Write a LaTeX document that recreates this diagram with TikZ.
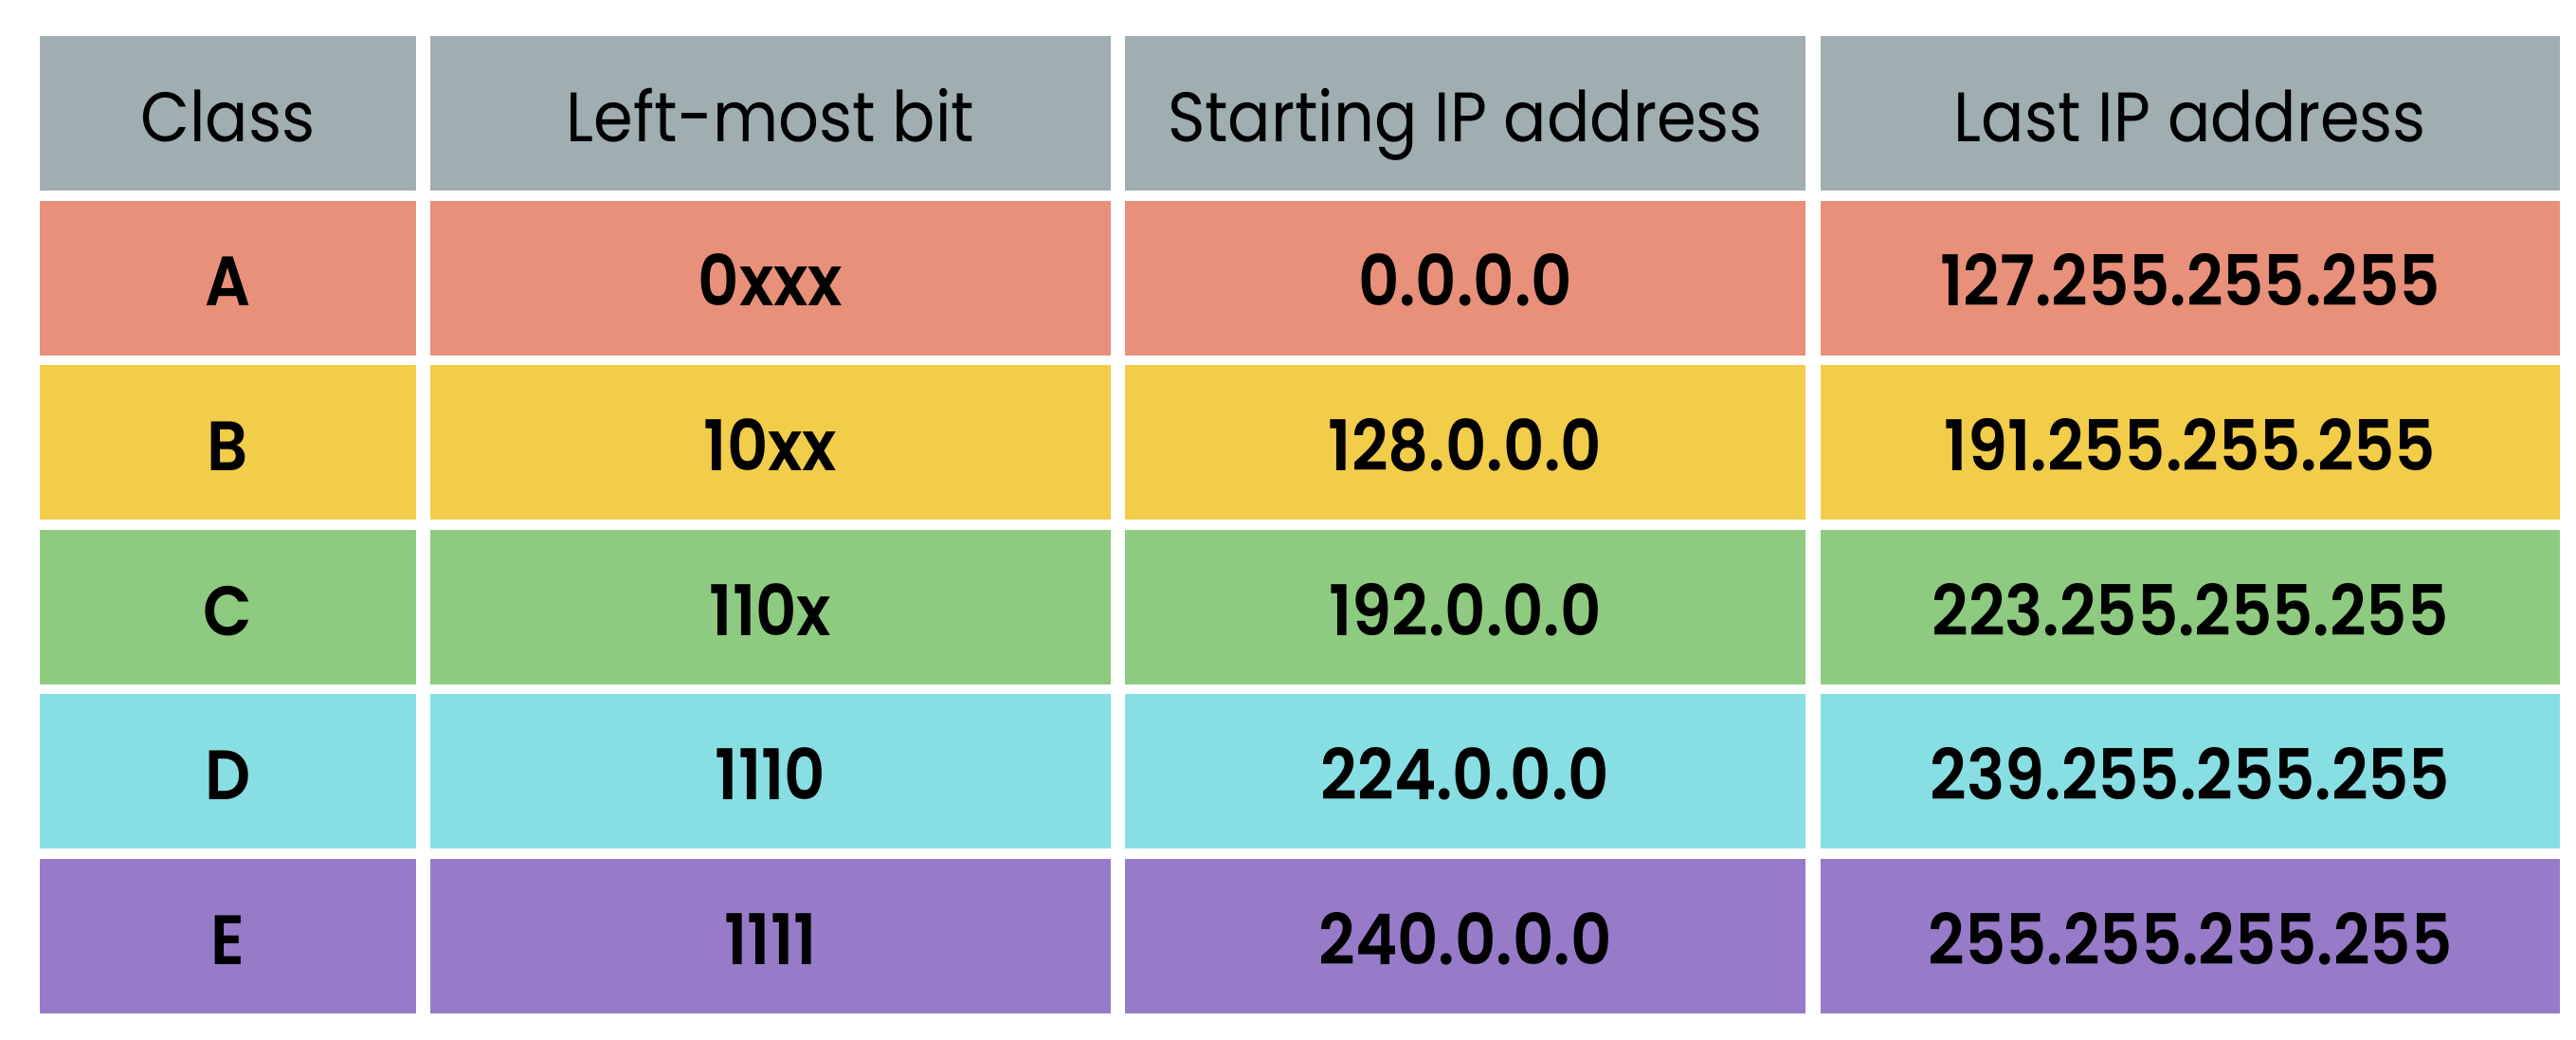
\documentclass[tikz,border=0pt]{standalone}
\usepackage{fontspec}
\setmainfont{Poppins}[FakeStretch=0.91, BoldFont={Poppins SemiBold}]
\usepackage{tikz}
\usetikzlibrary{positioning}
\definecolor{headgray}{RGB}{160,174,178}
\definecolor{rowA}{RGB}{232,144,122}
\definecolor{rowB}{RGB}{241,205,73}
\definecolor{rowC}{RGB}{142,203,128}
\definecolor{rowD}{RGB}{136,223,227}
\definecolor{rowE}{RGB}{151,123,200}
\tikzstyle{cell} = [rectangle, inner sep=0pt, minimum height=1.63cm, text height=17pt, text depth=0pt, font=\fontsize{21pt}{25pt}\selectfont]
\tikzstyle{head} = [cell, fill=headgray]
\tikzstyle{entry} = [cell, font=\fontsize{21pt}{25pt}\selectfont\bfseries]

\begin{document}
\begin{tikzpicture}
    \useasboundingbox (0,0) rectangle (27.18,-10.96);

    % Header
    \node (hclass) at (2.405,-1.195) [head, minimum width=3.97cm] {Class};
    \node (hbit) at (8.13,-1.195) [head, minimum width=7.18cm] {Left-most bit};
    \node (hstart) at (15.46,-1.195) [head, minimum width=7.18cm] {Starting IP address};
    \node (hlast) at (23.11,-1.195) [head, minimum width=7.80cm] {Last IP address};

    % Class A
    \node (aclass) at (2.405,-2.931) [entry, fill=rowA, minimum width=3.97cm] {A};
    \node (abit) at (8.13,-2.931) [entry, fill=rowA, minimum width=7.18cm] {0xxx};
    \node (astart) at (15.46,-2.931) [entry, fill=rowA, minimum width=7.18cm] {0.0.0.0};
    \node (alast) at (23.11,-2.931) [entry, fill=rowA, minimum width=7.80cm] {127.255.255.255};

    % Class B
    \node (bclass) at (2.405,-4.667) [entry, fill=rowB, minimum width=3.97cm] {B};
    \node (bbit) at (8.13,-4.667) [entry, fill=rowB, minimum width=7.18cm] {10xx};
    \node (bstart) at (15.46,-4.667) [entry, fill=rowB, minimum width=7.18cm] {128.0.0.0};
    \node (blast) at (23.11,-4.667) [entry, fill=rowB, minimum width=7.80cm] {191.255.255.255};

    % Class C
    \node (cclass) at (2.405,-6.403) [entry, fill=rowC, minimum width=3.97cm] {C};
    \node (cbit) at (8.13,-6.403) [entry, fill=rowC, minimum width=7.18cm] {110x};
    \node (cstart) at (15.46,-6.403) [entry, fill=rowC, minimum width=7.18cm] {192.0.0.0};
    \node (clast) at (23.11,-6.403) [entry, fill=rowC, minimum width=7.80cm] {223.255.255.255};

    % Class D
    \node (dclass) at (2.405,-8.139) [entry, fill=rowD, minimum width=3.97cm] {D};
    \node (dbit) at (8.13,-8.139) [entry, fill=rowD, minimum width=7.18cm] {1110};
    \node (dstart) at (15.46,-8.139) [entry, fill=rowD, minimum width=7.18cm] {224.0.0.0};
    \node (dlast) at (23.11,-8.139) [entry, fill=rowD, minimum width=7.80cm] {239.255.255.255};

    % Class E
    \node (eclass) at (2.405,-9.875) [entry, fill=rowE, minimum width=3.97cm] {E};
    \node (ebit) at (8.13,-9.875) [entry, fill=rowE, minimum width=7.18cm] {1111};
    \node (estart) at (15.46,-9.875) [entry, fill=rowE, minimum width=7.18cm] {240.0.0.0};
    \node (elast) at (23.11,-9.875) [entry, fill=rowE, minimum width=7.80cm] {255.255.255.255};
\end{tikzpicture}
\end{document}
